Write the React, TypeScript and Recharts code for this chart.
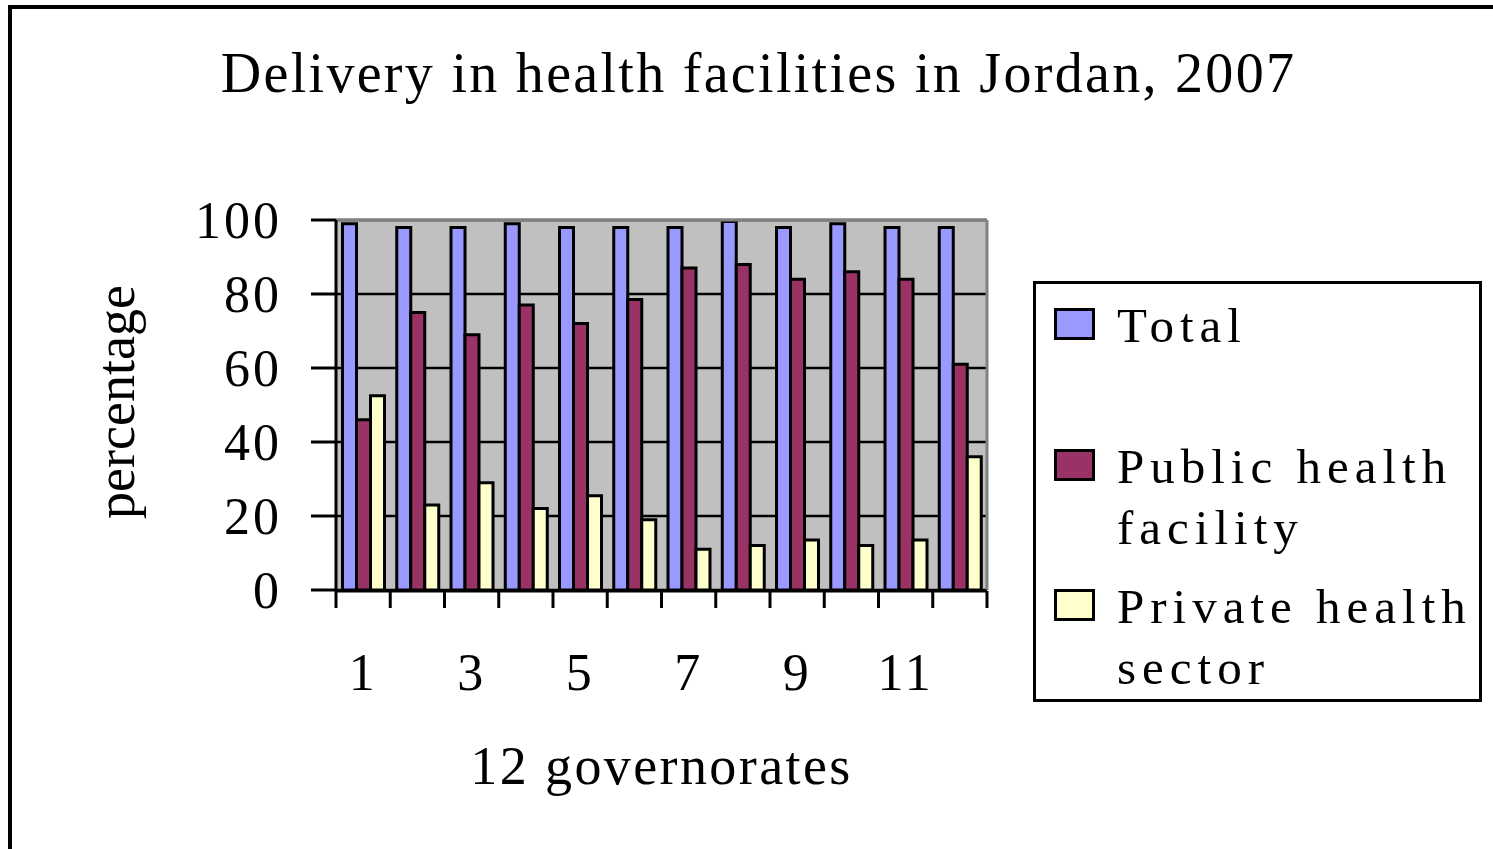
import React from 'react';
import { BarChart, Bar, XAxis, YAxis, CartesianGrid, Legend, ReferenceLine } from 'recharts';

const categories = ['1', '2', '3', '4', '5', '6', '7', '8', '9', '10', '11', '12'];
const totalValues = [99, 98, 98, 99, 98, 98, 98, 99.6, 98, 99, 98, 98];
const publicValues = [46, 75, 69, 77, 72, 78.5, 87, 88, 84, 86, 84, 61];
const privateValues = [52.5, 23, 29, 22, 25.5, 19, 11, 12, 13.5, 12, 13.5, 36];
const yTicks = [0, 20, 40, 60, 80, 100];
const boundaryTicks = [0, 1, 2, 3, 4, 5, 6, 7, 8, 9, 10, 11, 12];

const seriesNames = ['Total', 'Public health facility', 'Private health sector'];
const seriesColors = ['#9999FF', '#993366', '#FFFFCC'];

const data = categories.map((c, i) => ({
  name: c,
  pos: i + 0.5,
  total: totalValues[i],
  pub: publicValues[i],
  priv: privateValues[i],
}));

const FONT = '"Liberation Serif", "Times New Roman", serif';

const LegendContent = () => {
  return (
    <div
      style={{
        position: 'relative',
        width: 449,
        height: 421,
        boxSizing: 'border-box',
        border: '3px solid #000',
        background: '#fff',
        fontFamily: FONT,
      }}
    >
      {seriesNames.map((name, i) => {
        const top = 24 + i * 140.5;
        return (
          <div key={name}>
            <div
              style={{
                position: 'absolute',
                left: 18,
                top,
                width: 41,
                height: 32,
                boxSizing: 'border-box',
                border: '3px solid #000',
                background: seriesColors[i],
              }}
            />
            <div
              style={{
                position: 'absolute',
                left: 81,
                top: top - 13,
                width: 368,
                fontSize: 49,
                lineHeight: '61px',
                letterSpacing: 6,
                color: '#000',
              }}
            >
              {name}
            </div>
          </div>
        );
      })}
    </div>
  );
};

export default function App() {
  return (
    <div
      style={{
        position: 'absolute',
        left: 0,
        top: 0,
        width: 1493,
        height: 849,
        overflow: 'hidden',
        background: '#fff',
        fontFamily: FONT,
      }}
    >
      <div
        style={{
          position: 'absolute',
          left: 8,
          top: 5,
          width: 2000,
          height: 2000,
          border: '4px solid #000',
        }}
      />
      <div
        style={{
          position: 'absolute',
          left: 11,
          top: 45,
          width: 1495,
          textAlign: 'center',
          fontSize: 56,
          lineHeight: '56px',
          letterSpacing: 2.3,
          color: '#000',
          whiteSpace: 'nowrap',
        }}
      >
        Delivery in health facilities in Jordan, 2007
      </div>
      <div style={{ position: 'absolute', left: 0, top: 0 }}>
        <BarChart
          width={1493}
          height={849}
          data={data}
          margin={{ top: 220, right: 506, bottom: 59, left: 236 }}
          barCategoryGap="12%"
          barGap={0}
        >
          <CartesianGrid
            vertical={false}
            stroke="#000"
            strokeWidth={2.5}
            fill="#C0C0C0"
            fillOpacity={1}
          />
          <XAxis
            dataKey="name"
            height={1}
            interval={1}
            tickLine={false}
            axisLine={false}
            tickSize={0}
            tickMargin={63}
            tick={{ fontSize: 52, fill: '#000', fontFamily: FONT, letterSpacing: 3 }}
            label={{
              value: '12 governorates',
              content: (p: any) => {
                const vb = p.viewBox || {};
                return (
                  <text
                    x={vb.x + vb.width / 2}
                    y={vb.y + 194}
                    textAnchor="middle"
                    fontSize={54}
                    fontFamily={FONT}
                    letterSpacing={2.4}
                    fill="#000"
                  >
                    12 governorates
                  </text>
                );
              },
            }}
          />
          <XAxis
            xAxisId="num"
            dataKey="pos"
            type="number"
            domain={[0, 12]}
            allowDataOverflow
            ticks={boundaryTicks}
            interval={0}
            height={199}
            tickSize={17}
            tickFormatter={() => ''}
            tickLine={{ stroke: '#000', strokeWidth: 3 }}
            axisLine={{ stroke: '#000', strokeWidth: 3 }}
          />
          <YAxis
            width={100}
            domain={[0, 100]}
            ticks={yTicks}
            interval={0}
            tickSize={25}
            tickMargin={29}
            tickLine={{ stroke: '#000', strokeWidth: 3 }}
            axisLine={{ stroke: '#000', strokeWidth: 3 }}
            tick={{ fontSize: 52, fill: '#000', fontFamily: FONT, letterSpacing: 3 }}
            label={{
              value: 'percentage',
              content: (p: any) => {
                const vb = p.viewBox || {};
                const cx = vb.x - 102;
                const cy = vb.y + vb.height / 2 - 3;
                return (
                  <text
                    x={cx}
                    y={cy}
                    transform={`rotate(-90, ${cx}, ${cy})`}
                    textAnchor="middle"
                    fontSize={54}
                    fontFamily={FONT}
                    fill="#000"
                  >
                    percentage
                  </text>
                );
              },
            }}
          />
          <ReferenceLine y={100} stroke="#808080" strokeWidth={3} />
          <ReferenceLine xAxisId="num" x={12} stroke="#808080" strokeWidth={3} />
          <Bar dataKey="total" name={seriesNames[0]} fill={seriesColors[0]} stroke="#000" strokeWidth={3} isAnimationActive={false} />
          <Bar dataKey="pub" name={seriesNames[1]} fill={seriesColors[1]} stroke="#000" strokeWidth={3} isAnimationActive={false} />
          <Bar dataKey="priv" name={seriesNames[2]} fill={seriesColors[2]} stroke="#000" strokeWidth={3} isAnimationActive={false} />
          <Legend
            layout="vertical"
            align="center"
            verticalAlign="middle"
            wrapperStyle={{ left: 1033, top: 281, width: 449, height: 421 }}
            content={<LegendContent />}
          />
        </BarChart>
      </div>
    </div>
  );
}
